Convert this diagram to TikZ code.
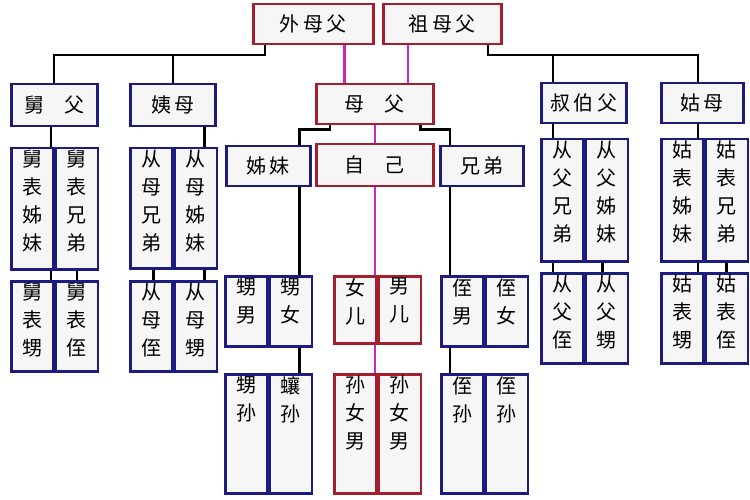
\documentclass[tikz,border=0pt]{standalone}
\usepackage{fontspec}
\newfontfamily\cjk{Noto Sans CJK SC}
\usetikzlibrary{calc}
\definecolor{navy}{RGB}{28,28,128}
\definecolor{darkred}{RGB}{165,30,45}
\definecolor{mag}{RGB}{200,40,200}
\definecolor{cellgray}{RGB}{246,246,246}
\tikzset{
	bluebox/.style = {draw=navy, line width=2.5pt, fill=cellgray, inner sep=0pt, anchor=north west, font=\cjk\fontsize{20}{28}\selectfont},
	redbox/.style = {draw=darkred, line width=2.5pt, fill=cellgray, inner sep=0pt, anchor=north west, font=\cjk\fontsize{20}{28}\selectfont},
	kin/.style = {line width=2.2pt, black},
	blood/.style = {line width=2.2pt, mag}}
\newcommand{\vcell}[2]{\parbox[t][#1pt][t]{38pt}{\centering\vspace*{2pt}#2}}
\newcommand{\pairbox}[7]{%
	\node[#5, minimum width=42pt, minimum height=#4pt] (#11) at (#2,#3) {\vcell{#4}{#6}};
	\node[#5, minimum width=42pt, minimum height=#4pt] (#12) at (#11.north east) {\vcell{#4}{#7}};}
\begin{document}
\begin{tikzpicture}[x=1pt,y=-1pt]
	\useasboundingbox (0,0) rectangle (750,500);
	% grandparents
	\node[redbox, minimum width=120pt, minimum height=40pt] (wmf) at (252,3) {外\,母\,父};
	\node[redbox, minimum width=118pt, minimum height=40pt] (zmf) at (382,3) {祖\,母\,父};
	% parents' generation
	\node[bluebox, minimum width=86pt, minimum height=42pt] (jiufu) at (10,83) {舅\quad 父};
	\node[bluebox, minimum width=85pt, minimum height=42pt] (yimu) at (129,83) {姨\,母};
	\node[redbox, minimum width=117pt, minimum height=40pt] (mufu) at (315,83) {母\quad 父};
	\node[bluebox, minimum width=85pt, minimum height=40pt] (shubo) at (540,82) {叔\,伯\,父};
	\node[bluebox, minimum width=82pt, minimum height=40pt] (gumu) at (660,82) {姑\,母};
	% own generation
	\node[bluebox, minimum width=84pt, minimum height=40pt] (zimei) at (225,145) {姊\,妹};
	\node[redbox, minimum width=117pt, minimum height=42pt] (ziji) at (315,143) {自\quad 己};
	\node[bluebox, minimum width=83pt, minimum height=40pt] (xiongdi) at (439,145) {兄\,弟};
	% cousins
	\pairbox{jb}{10}{147}{121}{bluebox}{舅\\表\\姊\\妹}{舅\\表\\兄\\弟}
	\pairbox{jc}{10}{280}{90}{bluebox}{舅\\表\\甥}{舅\\表\\侄}
	\pairbox{yb}{129}{147}{120}{bluebox}{从\\母\\兄\\弟}{从\\母\\姊\\妹}
	\pairbox{yc}{129}{280}{90}{bluebox}{从\\母\\侄}{从\\母\\甥}
	\pairbox{sb}{540}{138}{122}{bluebox}{从\\父\\兄\\弟}{从\\父\\姊\\妹}
	\pairbox{sc}{540}{272}{90}{bluebox}{从\\父\\侄}{从\\父\\甥}
	\pairbox{gb}{660}{138}{122}{bluebox}{姑\\表\\姊\\妹}{姑\\表\\兄\\弟}
	\pairbox{gc}{660}{272}{90}{bluebox}{姑\\表\\甥}{姑\\表\\侄}
	% children and grandchildren
	\pairbox{zm}{224}{275}{70}{bluebox}{甥\\男}{甥\\女}
	\pairbox{zs}{224}{373}{119}{bluebox}{甥\\孙}{蠰\\孙}
	\pairbox{ze}{333}{275}{67}{redbox}{女\\儿}{男\\儿}
	\pairbox{zn}{333}{373}{119}{redbox}{孙\\女\\男}{孙\\女\\男}
	\pairbox{xm}{440}{275}{70}{bluebox}{侄\\男}{侄\\女}
	\pairbox{xs}{440}{373}{119}{bluebox}{侄\\孙}{侄\\孙}
	% connectors
	\coordinate (lbar) at (265,55);
	\coordinate (rbar) at (488,55);
	\draw[kin] (lbar |- wmf.south) -- (lbar) -| (jiufu.north);
	\draw[kin] (lbar -| yimu.north) -- (yimu.north);
	\draw[kin] (rbar |- zmf.south) -- (rbar) -| ([xshift=-4pt]gumu.north);
	\draw[kin] ([xshift=13pt]shubo.north west |- rbar) -- ([xshift=13pt]shubo.north west);
	\draw[blood] ([xshift=-30pt]wmf.south east) -- ([xshift=-30pt]wmf.south east |- mufu.north);
	\draw[blood] ([xshift=26pt]zmf.south west) -- ([xshift=26pt]zmf.south west |- mufu.north);
	\draw[kin] ([xshift=15pt]mufu.south west) |- ++(0,4) -| ([xshift=-12pt]zimei.north east);
	\draw[kin] ([xshift=-14pt]mufu.south east) |- ++(0,4) -| ([xshift=11pt]xiongdi.north west);
	\draw[blood] (mufu.south) -- (ziji.north);
	\draw[blood] (ziji.south) -- (ziji.south |- ze1.north);
	\draw[blood] (ziji.south |- ze1.south) -- (ziji.south |- zn1.north);
	\coordinate (zl) at ([xshift=-12pt]zimei.south east);
	\draw[kin] (zl) -- (zl |- zm2.north);
	\draw[kin] (zl |- zm2.south) -- (zl |- zs2.north);
	\coordinate (xl) at ([xshift=11pt]xiongdi.south west);
	\draw[kin] (xl) -- (xl |- xm1.north);
	\draw[kin] (xl |- xm1.south) -- (xl |- xs1.north);
	\coordinate (jl) at ([xshift=-3pt]jiufu.south);
	\draw[kin] (jl) -- (jl |- jb1.north);
	\draw[kin] (jl |- jb1.south) -- (jl |- jc1.north);
	\draw[kin] (jb2.south) -- (jc2.north);
	\coordinate (yl) at ([xshift=-12pt]yimu.south east);
	\draw[kin] (yl) -- (yl |- yb2.north);
	\draw[kin] (yl |- yb2.south) -- (yl |- yc2.north);
	\draw[kin] ([xshift=-20pt]yb1.south east) -- ([xshift=-20pt]yb1.south east |- yc1.north);
	\coordinate (sl) at ([xshift=13pt]shubo.south west);
	\draw[kin] (sl) -- (sl |- sb1.north);
	\draw[kin] (sl |- sb1.south) -- (sl |- sc1.north);
	\draw[kin] ([xshift=18pt]sb2.south west) -- ([xshift=18pt]sb2.south west |- sc2.north);
	\coordinate (gl) at ([xshift=-4pt]gumu.south);
	\draw[kin] (gl) -- (gl |- gb1.north);
	\draw[kin] (gl |- gb1.south) -- (gl |- gc1.north);
	\draw[kin] ([xshift=22pt]gb2.south west) -- ([xshift=22pt]gb2.south west |- gc2.north);
\end{tikzpicture}
\end{document}
